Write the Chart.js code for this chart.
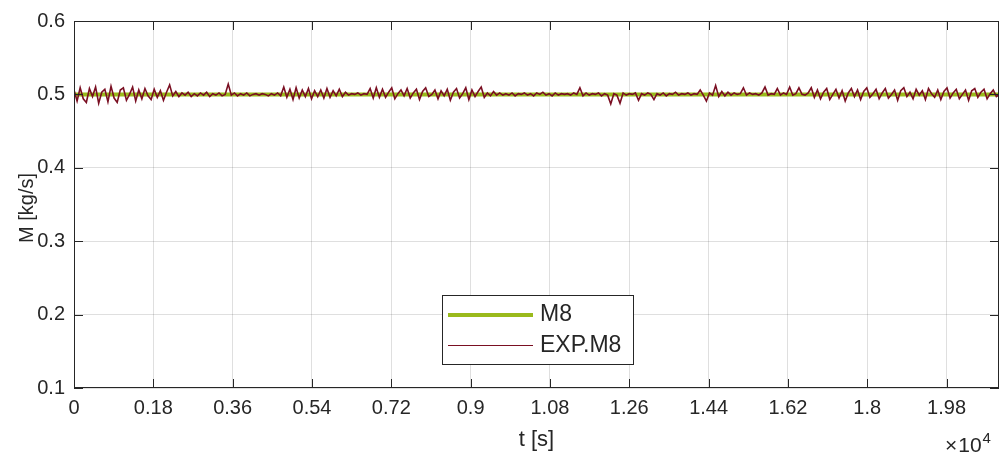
<!DOCTYPE html>
<html>
<head>
<meta charset="utf-8">
<script src="https://cdn.jsdelivr.net/npm/chart.js@4/dist/chart.umd.min.js"></script>
<style>
html,body{margin:0;padding:0;background:#fff;}
canvas{display:block;}
</style>
</head>
<body>
<canvas id="c" width="1001" height="454"></canvas>
<script>
// ---- data ----
const xTickValues = [0,1800,3600,5400,7200,9000,10800,12600,14400,16200,18000,19800];
const xTickLabels = ['0','0.18','0.36','0.54','0.72','0.9','1.08','1.26','1.44','1.62','1.8','1.98'];
const yTickValues = [0.1,0.2,0.3,0.4,0.5,0.6];
const yTickLabels = ['0.1','0.2','0.3','0.4','0.5','0.6'];
const expStep = 70; // sampling interval [s]
const expValues = [
0.506,0.491,0.509,0.494,0.489,0.508,0.497,0.510,0.488,0.503,0.507,0.490,0.511,0.495,0.489,0.506,0.509,0.492,0.500,0.510,
0.491,0.506,0.494,0.508,0.498,0.493,0.507,0.496,0.505,0.492,0.503,0.513,0.498,0.504,0.497,0.502,0.499,0.503,0.497,0.501,
0.498,0.502,0.499,0.503,0.497,0.501,0.499,0.502,0.498,0.500,0.514,0.499,0.502,0.498,0.501,0.499,0.502,0.498,0.500,0.501,
0.499,0.501,0.500,0.498,0.501,0.499,0.502,0.498,0.510,0.496,0.507,0.493,0.509,0.495,0.506,0.497,0.508,0.494,0.505,0.497,
0.506,0.495,0.508,0.496,0.505,0.498,0.507,0.497,0.503,0.499,0.501,0.500,0.502,0.499,0.501,0.500,0.508,0.495,0.509,0.496,
0.507,0.496,0.503,0.509,0.494,0.501,0.506,0.498,0.508,0.495,0.502,0.507,0.493,0.504,0.509,0.497,0.500,0.506,0.494,0.505,
0.498,0.507,0.492,0.503,0.508,0.495,0.501,0.509,0.493,0.506,0.497,0.504,0.510,0.496,0.502,0.498,0.504,0.499,0.502,0.499,
0.501,0.499,0.502,0.498,0.501,0.500,0.502,0.499,0.501,0.498,0.502,0.500,0.503,0.499,0.501,0.498,0.502,0.499,0.501,0.500,
0.501,0.499,0.502,0.500,0.509,0.498,0.502,0.499,0.501,0.500,0.502,0.498,0.501,0.499,0.487,0.501,0.499,0.488,0.502,0.499,
0.501,0.500,0.502,0.492,0.501,0.499,0.502,0.500,0.493,0.501,0.499,0.502,0.498,0.501,0.500,0.503,0.499,0.501,0.500,0.502,
0.499,0.501,0.500,0.506,0.499,0.491,0.502,0.499,0.512,0.497,0.504,0.498,0.503,0.499,0.502,0.500,0.501,0.509,0.499,0.502,
0.500,0.501,0.499,0.502,0.510,0.499,0.501,0.500,0.508,0.499,0.502,0.500,0.510,0.499,0.501,0.509,0.500,0.499,0.502,0.509,
0.496,0.506,0.494,0.503,0.508,0.493,0.500,0.507,0.495,0.505,0.491,0.502,0.508,0.497,0.506,0.493,0.504,0.509,0.496,0.501,
0.507,0.494,0.502,0.508,0.495,0.500,0.506,0.492,0.505,0.509,0.497,0.503,0.494,0.507,0.499,0.505,0.493,0.508,0.501,0.496,
0.506,0.493,0.504,0.509,0.495,0.502,0.507,0.494,0.500,0.506,0.492,0.505,0.508,0.496,0.503,0.507,0.494,0.501,0.506,0.497,
0.500
];
const m8Times  = [0,1800,3600,5400,7200,9000,10800,12600,14400,16200,18000,19800,21000];
const m8Values = [0.500,0.500,0.500,0.500,0.500,0.500,0.500,0.500,0.500,0.500,0.500,0.500,0.500];

// ---- build datasets ----
const expPoints = expValues.map((v,i)=>({x:i*expStep, y:v}));
const m8Points = m8Values.map((v,i)=>({x:m8Times[i], y:v}));

const FONT = '"Liberation Sans", Arial, Helvetica, sans-serif';
const TXT = '#262626';
const GRID = 'rgba(38,38,38,0.15)';
const C_M8 = '#9aba1c';
const C_EXP = '#7a0f22';

const decoPlugin = {
  id:'deco',
  afterDraw(chart){
    const {ctx, chartArea:a, scales:{x,y}} = chart;
    ctx.save();
    // box
    ctx.strokeStyle = TXT; ctx.lineWidth = 1;
    ctx.strokeRect(Math.round(a.left)+0.5, Math.round(a.top)+0.5, Math.round(a.right-a.left)-1, Math.round(a.bottom-a.top)-1);
    // inward ticks
    const tl = 9;
    ctx.beginPath();
    xTickValues.forEach(v=>{
      const px = Math.round(x.getPixelForValue(v))+0.5;
      ctx.moveTo(px, a.bottom); ctx.lineTo(px, a.bottom-tl);
      ctx.moveTo(px, a.top); ctx.lineTo(px, a.top+tl);
    });
    yTickValues.forEach(v=>{
      const py = Math.round(y.getPixelForValue(v))+0.5;
      ctx.moveTo(a.left, py); ctx.lineTo(a.left+tl, py);
      ctx.moveTo(a.right, py); ctx.lineTo(a.right-tl, py);
    });
    ctx.stroke();
    // axis titles
    ctx.fillStyle = TXT;
    ctx.font = '22px ' + FONT;
    ctx.textAlign = 'center'; ctx.textBaseline = 'middle';
    ctx.fillText('t [s]', (a.left+a.right)/2, 440);
    ctx.save();
    ctx.translate(27, 208);
    ctx.rotate(-Math.PI/2);
    ctx.font = '20px ' + FONT;
    ctx.fillText('M [kg/s]', 0, 0);
    ctx.restore();
    // exponent
    ctx.textAlign = 'left'; ctx.textBaseline = 'alphabetic';
    ctx.font = '21px ' + FONT;
    ctx.fillText('\u00d7', 945, 452);
    const wx = ctx.measureText('\u00d7').width;
    ctx.fillText('10', 945 + wx + 1, 452);
    const w10 = ctx.measureText('10').width;
    ctx.font = '15px ' + FONT;
    ctx.fillText('4', 945 + wx + 1 + w10 + 1, 443);
    // legend
    const lx = 442, ly = 295, lw = 191, lh = 69;
    ctx.fillStyle = '#fff';
    ctx.fillRect(lx, ly, lw, lh);
    ctx.strokeStyle = TXT; ctx.lineWidth = 1;
    ctx.strokeRect(lx+0.5, ly+0.5, lw, lh);
    ctx.lineCap = 'butt';
    ctx.strokeStyle = C_M8; ctx.lineWidth = 4;
    ctx.beginPath(); ctx.moveTo(448, 315); ctx.lineTo(533, 315); ctx.stroke();
    ctx.strokeStyle = C_EXP; ctx.lineWidth = 1;
    ctx.beginPath(); ctx.moveTo(448, 345.5); ctx.lineTo(533, 345.5); ctx.stroke();
    ctx.fillStyle = TXT;
    ctx.font = '23px ' + FONT;
    ctx.textBaseline = 'middle';
    ctx.fillText('M8', 540, 315);
    ctx.fillText('EXP.M8', 540, 346);
    ctx.restore();
  }
};

new Chart(document.getElementById('c'), {
  type:'line',
  data:{datasets:[
    {label:'EXP.M8', data:expPoints, borderColor:C_EXP, borderWidth:1.6, pointRadius:0, tension:0, order:0},
    {label:'M8', data:m8Points, borderColor:C_M8, borderWidth:4, pointRadius:0, tension:0, order:1}
  ]},
  options:{
    responsive:false, animation:false, devicePixelRatio:1,
    layout:{padding:{top:16, right:2, left:0, bottom:0}},
    plugins:{legend:{display:false}, tooltip:{enabled:false}},
    scales:{
      x:{
        type:'linear', min:0, max:20990,
        afterBuildTicks:s=>{ s.ticks = xTickValues.map(v=>({value:v})); },
        ticks:{callback:(v,i)=>xTickLabels[i], font:{family:FONT, size:20}, color:TXT, padding:8, maxRotation:0, autoSkip:false},
        grid:{color:GRID, drawTicks:false},
        border:{display:false},
        afterFit:s=>{ s.height = 66; }
      },
      y:{
        type:'linear', min:0.1, max:0.6,
        afterBuildTicks:s=>{ s.ticks = yTickValues.map(v=>({value:v})); },
        ticks:{callback:(v,i)=>yTickLabels[i], font:{family:FONT, size:20}, color:TXT, padding:9},
        grid:{color:GRID, drawTicks:false},
        border:{display:false},
        afterFit:s=>{ s.width = 74; }
      }
    }
  },
  plugins:[decoPlugin]
});
</script>
</body>
</html>
